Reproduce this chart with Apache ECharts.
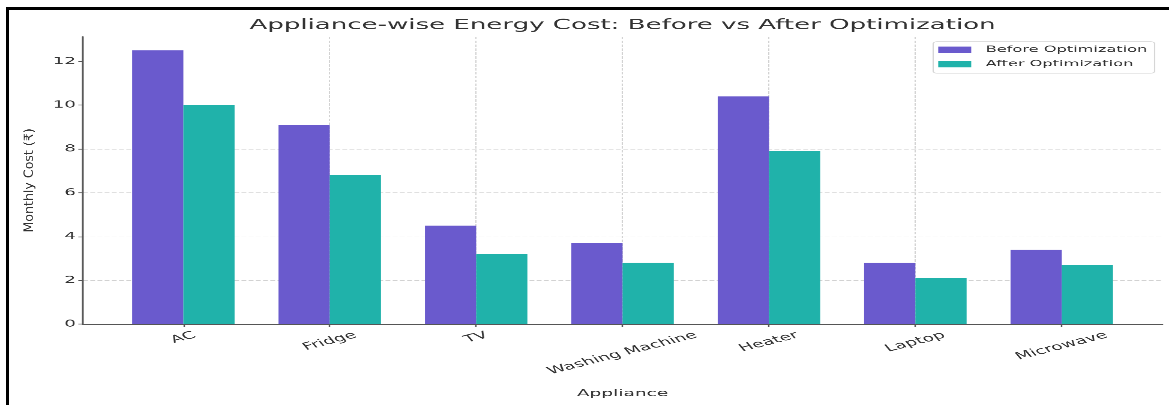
<!DOCTYPE html>
<html>
<head>
<meta charset="utf-8">
<script src="https://cdn.jsdelivr.net/npm/echarts@6/dist/echarts.min.js"></script>
<style>
  html, body { margin: 0; padding: 0; background: #fff; }
  #stage { position: relative; width: 1169px; height: 405px; overflow: hidden; background: #fff; }
  /* chart is laid out at its own proportions, then stretched to fill the stage */
  #chart { position: absolute; left: 0; top: 0; width: 974px; height: 623px;
           transform: scale(1.20021, 0.65008); transform-origin: 0 0; }
  #frame { position: absolute; left: 6px; top: 7px; width: 1200px; height: 420px;
           border-left: 3px solid #000; border-top: 3px solid #000; pointer-events: none; }
</style>
</head>
<body>
<div id="stage">
  <div id="chart"></div>
  <div id="frame"></div>
</div>
<script>
// ---- data ----
const categories = ['AC', 'Fridge', 'TV', 'Washing Machine', 'Heater', 'Laptop', 'Microwave'];
const beforeCost = [12.5, 9.1, 4.5, 3.7, 10.4, 2.8, 3.4];
const afterCost  = [10.0, 6.8, 3.2, 2.8, 7.9, 2.1, 2.7];
const yTicks = [0, 2, 4, 6, 8, 10, 12];
const seriesNames = ['Before Optimization', 'After Optimization'];

// ---- style ----
const FONT = '"DejaVu Sans", "Noto Sans", sans-serif';
const TICK_FONT_SIZE = 15;
const XLABEL_FONT_SIZE = 15.5;
const LABEL_ROT = 25 * Math.PI / 180;
const LABEL_PAD = 9;
const STRETCH = 1.20021 / 0.65008;

const xIdx = categories.map((c, i) => i);
const measureCtx = document.createElement('canvas').getContext('2d');
measureCtx.font = XLABEL_FONT_SIZE + 'px ' + FONT;

const chart = echarts.init(document.getElementById('chart'), null, { devicePixelRatio: 2 });

const gridLine = { color: '#d2d2d2', width: 1, type: [4, 2] };

chart.setOption({
  backgroundColor: '#fff',
  animation: false,
  title: {
    text: 'Appliance-wise Energy Cost: Before vs After Optimization',
    left: 518.7, top: 28, padding: 0, textAlign: 'center',
    textStyle: { fontFamily: FONT, fontSize: 21.7, fontWeight: 'normal', color: '#333' }
  },
  legend: {
    data: seriesNames,
    orient: 'vertical', left: 777.5, top: 64.1,
    padding: [5.5, 6, 7, 4.2],
    itemWidth: 27.5, itemHeight: 10, itemGap: 8,
    icon: 'rect',
    backgroundColor: '#fff', borderColor: '#d6d6d6', borderWidth: 1, borderRadius: 3,
    textStyle: { fontFamily: FONT, fontSize: 13.5, color: '#333', padding: [0, 0, 0, 7] }
  },
  grid: { left: 69.2, right: 5.8, top: 56.5, bottom: 124.5 },
  xAxis: {
    type: 'value', min: -0.685, max: 6.685,
    name: 'Appliance', nameLocation: 'middle', nameGap: 99,
    nameTextStyle: { fontFamily: FONT, fontSize: 15.5, color: '#333' },
    axisLine: { show: true, onZero: false, lineStyle: { color: '#555', width: 2 } },
    axisTick: { show: true, customValues: xIdx, length: 4, lineStyle: { color: '#555', width: 1.2 } },
    axisLabel: { show: false },
    splitLine: { show: true, showMinLine: false, showMaxLine: false, lineStyle: gridLine }
  },
  yAxis: {
    type: 'value', min: 0, max: 13.125, interval: 2,
    axisLine: { show: true, onZero: false, lineStyle: { color: '#555', width: 1.5 } },
    axisTick: { show: true, customValues: yTicks, length: 4, lineStyle: { color: '#555', width: 1.2 } },
    axisLabel: { customValues: yTicks, margin: 6, fontFamily: FONT, fontSize: TICK_FONT_SIZE, color: '#333' },
    splitLine: { show: true, showMinLine: false, showMaxLine: false, lineStyle: gridLine }
  },
  graphic: [{
    type: 'text', x: 25, y: 277.5, rotation: Math.PI / 2, scaleX: STRETCH,
    style: { text: 'Monthly Cost (₹)', font: '10.5px ' + FONT, align: 'center', verticalAlign: 'middle', fill: '#333' }
  }],
  series: [
    {
      name: seriesNames[0], type: 'bar', barWidth: '35%', barGap: '0%',
      itemStyle: { color: '#6a5acd' },
      data: beforeCost.map((v, i) => [i, v])
    },
    {
      name: seriesNames[1], type: 'bar', barWidth: '35%', barGap: '0%',
      itemStyle: { color: '#20b2aa' },
      data: afterCost.map((v, i) => [i, v])
    },
    {
      // category names under the axis, each rotated box centred on its tick
      type: 'custom', silent: true, clip: false, z: 3,
      encode: { x: 0, y: 1 },
      data: xIdx.map(i => [i, 0]),
      renderItem(params, api) {
        const i = api.value(0);
        const p = api.coord([i, 0]);
        const name = categories[i];
        const w = measureCtx.measureText(name).width;
        const h = XLABEL_FONT_SIZE * 1.05;
        const boxH = w * Math.sin(LABEL_ROT) + h * Math.cos(LABEL_ROT);
        return {
          type: 'text',
          x: p[0], y: p[1] + LABEL_PAD + boxH / 2,
          rotation: LABEL_ROT,
          style: {
            text: name, x: 0, y: 0, align: 'center', verticalAlign: 'middle',
            font: XLABEL_FONT_SIZE + 'px ' + FONT, fill: '#333'
          }
        };
      }
    }
  ]
});
</script>
</body>
</html>
